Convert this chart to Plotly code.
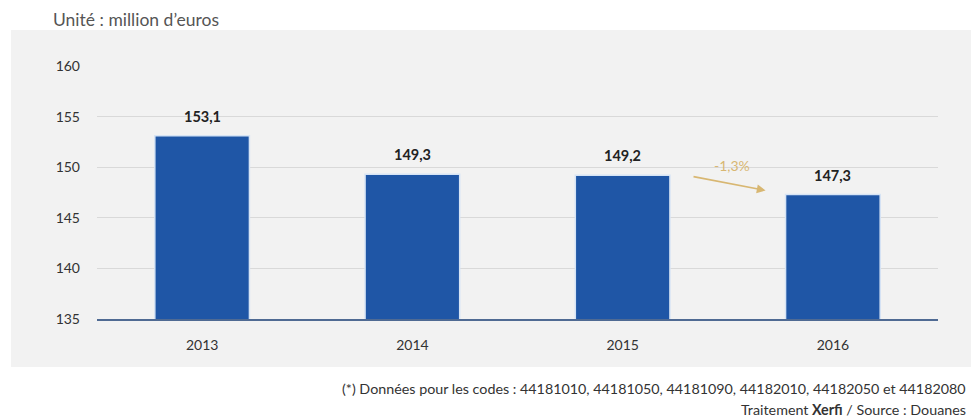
import plotly.graph_objects as go

# Chiffre d'affaires (million d'euros)
years = ["2013", "2014", "2015", "2016"]
values = [153.1, 149.3, 149.2, 147.3]
y_ticks = [135, 140, 145, 150, 155, 160]

FONT = "Lato, 'Open Sans', sans-serif"
BAR = "#1f56a6"
GOLD = "#d8b772"

pos = list(range(len(years)))


def fr(v, nd=1):
    return f"{v:.{nd}f}".replace(".", ",")


fig = go.Figure()
fig.add_trace(go.Bar(
    x=pos, y=values, width=0.45,
    marker=dict(color=BAR, line=dict(color="#d6e4f5", width=1.5)),
    hoverinfo="skip",
))

# value labels above the bars
for p, v in zip(pos, values):
    fig.add_annotation(
        x=p, y=v, text=f"<b>{fr(v)}</b>", showarrow=False,
        yanchor="bottom", yshift=9,
        font=dict(family=FONT, size=14.5, color="#222222"),
    )

# change between the last two years
change = (values[3] - values[2]) / values[2] * 100
fig.add_annotation(
    x=2.68, y=147.7, ax=2.33, ay=149.1, xref="x", yref="y", axref="x", ayref="y",
    showarrow=True, arrowhead=2, arrowsize=1.1, arrowwidth=1.6, arrowcolor=GOLD, text="",
)
fig.add_annotation(
    x=2.52, y=150.2, xref="x", yref="y", text=f"{fr(change)}%", showarrow=False,
    font=dict(family=FONT, size=14, color=GOLD),
)

# grey background panel
fig.add_shape(
    type="rect", xref="paper", yref="paper", x0=-0.1023, x1=1.05, y0=-0.19, y1=1.142,
    fillcolor="#f2f2f2", line=dict(width=0), layer="below",
)

fig.add_annotation(
    xref="paper", yref="paper", x=-0.055, y=1.182, xanchor="left", yanchor="middle",
    text="Unité : million d’euros", showarrow=False,
    font=dict(family=FONT, size=17.5, color="#555555"),
)
fig.add_annotation(
    xref="paper", yref="paper", x=1.036, y=-0.273, xanchor="right", yanchor="middle",
    text="(*) Données pour les codes : 44181010, 44181050, 44181090, 44182010, 44182050 et 44182080",
    showarrow=False, font=dict(family=FONT, size=14.3, color="#333333"),
)
fig.add_annotation(
    xref="paper", yref="paper", x=1.036, y=-0.356, xanchor="right", yanchor="middle",
    text="Traitement <b>Xerfi</b> / Source : Douanes",
    showarrow=False, font=dict(family=FONT, size=14.3, color="#333333"),
)

fig.update_layout(
    width=971, height=418,
    margin=dict(l=97, r=33, t=66, b=99),
    paper_bgcolor="white", plot_bgcolor="rgba(0,0,0,0)",
    showlegend=False,
    font=dict(family=FONT, size=14, color="#333333"),
    xaxis=dict(
        range=[-0.5, 3.5], tickvals=pos, ticktext=years,
        showgrid=False, zeroline=False, showline=True, linecolor="#4f6a93", linewidth=1.5,
        ticks="", ticklabelstandoff=12, tickfont=dict(size=14, color="#333333"),
    ),
    yaxis=dict(
        range=[135, 160], tickvals=y_ticks, ticktext=[str(t) for t in y_ticks],
        showgrid=True, gridcolor="#d9d9d9", gridwidth=1, zeroline=False, showline=False,
        ticks="", ticklabelstandoff=16, tickfont=dict(size=14, color="#333333"),
    ),
)

fig.write_html("out.html")
